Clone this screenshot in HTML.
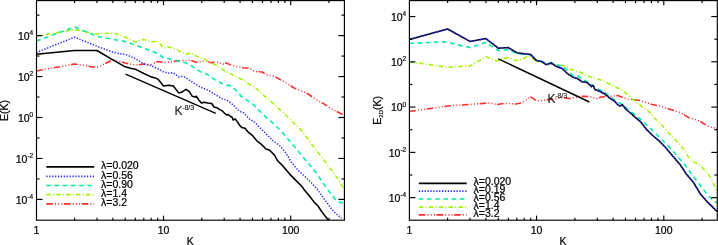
<!DOCTYPE html>
<html><head><meta charset="utf-8"><style>
html,body{margin:0;padding:0;background:#fff;}
body{width:718px;height:245px;position:relative;overflow:hidden;font-family:"Liberation Sans",sans-serif;}
svg{will-change:transform;}
</style></head><body>
<svg width="718" height="245" viewBox="0 0 718 245" style="position:absolute;left:0;top:0">
<defs><clipPath id="cl"><rect x="36.5" y="0.6" width="307.9" height="219.6"/></clipPath><clipPath id="cr"><rect x="409.4" y="0.6" width="307.9" height="219.6"/></clipPath></defs>
<polyline points="36.3,71.0 74.6,64.0 96.9,67.6 112.9,59.8 125.2,63.0 135.3,65.2 143.8,64.0 151.2,64.6 157.7,61.6 163.5,62.5 168.8,62.3 176.0,61.0 190.3,60.2 196.4,62.2 206.6,61.0 210.7,62.7 216.8,62.2 222.9,64.3 225.0,62.7 235.2,66.3 243.3,67.8 250.0,68.4 254.9,71.6 262.2,72.0 265.9,74.5 274.5,76.5 284.3,81.8 294.1,88.0 306.3,92.9 316.1,99.5 323.5,103.7 333.3,109.8 344.0,115.2" fill="none" stroke="#ff2b2b" stroke-width="1.55" stroke-linejoin="round" stroke-dasharray="6.5 2.2 1 2.2 1 2.2 1 1.6" clip-path="url(#cl)"/>
<polyline points="36.3,36.3 74.6,29.6 96.9,34.1 112.9,32.9 125.2,37.0 135.3,42.0 143.8,39.4 151.2,42.0 157.7,40.8 163.5,48.0 168.8,47.0 176.0,49.4 186.2,54.5 190.3,52.9 196.4,56.1 206.6,60.2 216.8,65.7 225.0,71.0 233.1,75.1 241.3,79.2 249.5,84.3 257.3,89.2 262.2,94.1 269.6,100.2 276.9,107.3 284.3,113.5 292.9,122.0 301.4,130.6 308.8,140.4 316.1,150.2 323.6,159.5 329.3,167.3 337.5,178.2 341.5,185.2 343.8,189.0" fill="none" stroke="#a2f400" stroke-width="1.55" stroke-linejoin="round" stroke-dasharray="4.5 2.2 1 2.2" clip-path="url(#cl)"/>
<polyline points="36.3,41.0 74.6,27.0 96.9,36.3 112.9,39.4 125.2,41.4 135.3,45.0 143.8,48.3 151.2,51.0 157.7,53.5 163.5,57.8 168.8,58.8 176.0,60.6 186.2,63.1 192.3,66.3 200.5,71.8 206.6,74.0 216.8,81.2 225.0,84.7 231.1,85.9 237.2,91.4 241.3,96.5 247.4,100.6 253.6,104.7 257.3,108.6 264.7,115.9 273.3,123.3 281.8,131.8 289.2,140.4 296.5,149.0 303.0,157.0 310.2,165.5 316.1,172.7 326.3,187.8 335.1,199.2 337.6,201.8 343.5,203.0" fill="none" stroke="#00eca4" stroke-width="1.55" stroke-linejoin="round" stroke-dasharray="4.6 3.6" clip-path="url(#cl)"/>
<polyline points="36.3,52.5 74.6,37.2 96.9,46.2 112.9,52.2 120.0,53.7 125.7,54.5 130.6,56.5 136.3,59.1 141.2,62.4 143.8,63.9 147.0,64.8 151.2,65.6 154.2,67.2 157.7,68.8 163.5,71.8 169.5,73.3 172.6,72.6 175.6,74.3 178.7,76.9 181.7,76.4 185.0,77.1 192.3,82.2 200.5,87.3 208.7,90.4 216.8,95.5 222.0,98.6 227.0,100.3 230.7,102.9 233.7,105.3 236.8,109.0 239.9,111.5 244.1,113.0 248.7,118.4 254.8,122.4 260.9,128.6 267.0,134.7 273.1,140.8 279.4,145.3 286.7,153.9 291.0,161.8 299.2,171.4 306.0,177.5 316.1,187.8 326.3,201.8 333.8,211.9 341.6,218.3" fill="none" stroke="#2a2aff" stroke-width="1.55" stroke-linejoin="round" stroke-dasharray="1.3 1.6" clip-path="url(#cl)"/>
<polyline points="36.3,54.2 74.6,50.5 96.9,50.5 112.9,59.8 125.2,66.8 130.6,68.3 136.3,69.6 143.8,73.5 150.1,76.4 155.2,77.9 158.3,79.4 163.5,86.0 168.8,85.2 173.4,86.0 178.6,92.9 181.4,92.3 186.0,89.4 189.4,91.7 192.3,96.3 194.6,96.9 196.3,96.3 198.6,99.7 201.4,103.1 204.3,102.3 207.7,103.1 211.7,103.5 214.2,107.2 217.2,107.8 219.7,109.6 222.1,110.8 224.6,113.3 227.0,115.1 228.2,114.5 230.1,116.3 231.9,117.0 233.1,120.0 235.0,118.8 237.4,121.9 239.9,125.5 241.7,127.4 245.0,128.2 248.7,132.7 252.7,135.7 256.8,140.8 260.9,143.9 266.0,149.0 269.6,150.2 274.5,155.1 277.4,160.5 282.8,165.9 289.7,174.1 295.1,179.6 302.0,186.5 304.0,189.5 306.9,192.9 309.7,196.3 313.9,201.9 318.0,206.0 320.8,210.2 324.3,215.1 327.1,218.6 328.8,220.8" fill="none" stroke="#000000" stroke-width="1.55" stroke-linejoin="round" clip-path="url(#cl)"/>
<polyline points="125.6,74.1 215.8,113.3" fill="none" stroke="#000000" stroke-width="1.4" stroke-linejoin="round"/>
<polyline points="409.3,111.5 447.8,106.0 470.2,104.4 489.0,102.9 497.2,104.5 505.0,103.3 510.4,103.7 515.8,104.0 519.4,103.3 523.0,101.9 527.5,99.2 530.6,96.8 533.8,98.9 536.5,101.0 542.8,100.3 546.1,100.0 556.3,98.6 562.5,97.5 569.0,98.6 579.2,96.5 585.0,96.2 591.5,97.0 596.4,98.7 601.3,97.0 607.8,96.2 612.7,96.2 617.6,95.6 622.5,97.2 627.3,99.1 632.2,99.7 638.4,100.3 644.5,102.1 649.4,103.4 652.2,104.5 660.4,106.1 670.6,109.6 680.8,112.7 689.0,117.8 699.2,120.8 707.3,125.9 714.5,128.0 717.3,129.0" fill="none" stroke="#ff2b2b" stroke-width="1.55" stroke-linejoin="round" stroke-dasharray="6.5 2.2 1 2.2 1 2.2 1 1.6" clip-path="url(#cr)"/>
<polyline points="409.3,61.8 447.8,67.3 470.0,65.9 486.1,56.8 490.0,58.2 497.3,61.0 502.2,58.8 508.3,57.5 515.7,60.6 521.8,59.4 526.7,56.9 530.0,57.0 536.1,60.8 541.2,62.5 549.4,63.9 556.1,64.7 562.6,65.5 569.2,68.8 575.7,71.2 582.2,72.8 585.0,75.0 594.8,78.3 603.0,80.7 609.5,84.0 616.0,87.2 620.0,88.9 624.9,92.3 629.8,96.6 634.7,100.9 639.6,104.6 644.5,108.3 648.8,111.5 654.7,118.2 662.9,126.3 671.0,135.5 679.2,143.7 684.1,149.9 688.7,157.3 692.1,161.1 699.4,164.8 706.8,172.1 711.7,179.4 715.3,188.0 717.3,192.0" fill="none" stroke="#a2f400" stroke-width="1.55" stroke-linejoin="round" stroke-dasharray="4.5 2.2 1 2.2" clip-path="url(#cr)"/>
<polyline points="409.3,43.5 444.7,41.8 470.0,47.6 485.9,42.4 498.2,50.6 508.3,49.6 516.8,53.7 530.7,54.7 536.6,60.4 541.4,61.0 546.0,63.5 551.0,62.5 556.1,64.7 562.6,66.3 567.5,70.4 572.4,75.3 577.3,75.3 582.2,79.4 585.0,80.7 590.0,83.5 598.0,88.9 604.6,92.1 609.5,96.2 616.0,101.1 622.5,104.4 629.0,110.1 634.0,114.0 640.4,119.2 650.6,128.4 660.8,138.6 671.0,148.8 678.7,157.6 684.8,164.8 692.1,174.6 699.4,184.3 706.8,194.1 714.1,201.5 717.3,203.0" fill="none" stroke="#00eca4" stroke-width="1.55" stroke-linejoin="round" stroke-dasharray="4.6 3.6" clip-path="url(#cr)"/>
<polyline points="409.3,39.4 447.6,29.0 470.0,41.4 485.9,38.6 498.2,48.2 508.3,47.6 516.8,52.7 524.2,53.7 530.7,54.6 536.5,60.6 541.4,61.4 546.3,64.7 551.2,63.0 556.1,66.3 562.6,68.8 567.5,73.7 572.4,76.9 577.3,78.5 582.2,81.8 587.1,82.6 590.0,85.1 591.5,86.6 593.2,85.5 594.8,89.5 599.7,91.3 604.6,93.8 609.5,97.8 614.4,101.1 617.6,104.6 620.0,106.0 622.4,104.8 626.1,109.5 629.8,112.5 632.3,114.6 634.3,116.6 640.4,121.6 646.5,129.4 652.7,135.5 658.8,140.6 664.9,146.7 671.0,153.9 676.1,160.0 680.0,164.5 686.7,174.6 693.5,182.5 700.2,193.7 707.0,201.6 715.5,209.9 717.3,211.3" fill="none" stroke="#000" stroke-width="1.55" stroke-linejoin="round" clip-path="url(#cr)"/>
<polyline points="409.3,39.4 447.6,29.0 470.0,41.4 485.9,38.6 498.2,48.2 508.3,47.6 516.8,52.7 524.2,53.7 530.7,54.6 536.5,60.6 541.4,61.4 546.3,64.7 551.2,63.0 556.1,66.3 562.6,68.8 567.5,73.7 572.4,76.9 577.3,78.5 582.2,81.8 587.1,82.6 590.0,85.1 591.5,86.6 593.2,85.5 594.8,89.5 599.7,91.3 604.6,93.8 609.5,97.8 614.4,101.1 617.6,104.6 620.0,106.0 622.4,104.8 626.1,109.5 629.8,112.5 632.3,114.6 634.3,116.6 640.4,121.6 646.5,129.4 652.7,135.5 658.8,140.6 664.9,146.7 671.0,153.9 676.1,160.0 680.0,164.5 686.7,174.6 693.5,182.5 700.2,193.7 707.0,201.6 715.5,209.9 717.3,211.3" fill="none" stroke="#2a2aff" stroke-width="1.55" stroke-linejoin="round" stroke-dasharray="1.3 1.6" clip-path="url(#cr)"/>
<polyline points="498.2,58.8 589.4,102.0" fill="none" stroke="#000000" stroke-width="1.4" stroke-linejoin="round"/>
<g stroke="#000" stroke-width="1.15" fill="none">
<rect x="36.5" y="0.6" width="307.9" height="219.6"/>
<line x1="74.59" y1="220.2" x2="74.59" y2="217.70"/>
<line x1="74.59" y1="0.6" x2="74.59" y2="3.10"/>
<line x1="96.99" y1="220.2" x2="96.99" y2="217.70"/>
<line x1="96.99" y1="0.6" x2="96.99" y2="3.10"/>
<line x1="112.88" y1="220.2" x2="112.88" y2="217.70"/>
<line x1="112.88" y1="0.6" x2="112.88" y2="3.10"/>
<line x1="125.21" y1="220.2" x2="125.21" y2="217.70"/>
<line x1="125.21" y1="0.6" x2="125.21" y2="3.10"/>
<line x1="135.28" y1="220.2" x2="135.28" y2="217.70"/>
<line x1="135.28" y1="0.6" x2="135.28" y2="3.10"/>
<line x1="143.80" y1="220.2" x2="143.80" y2="217.70"/>
<line x1="143.80" y1="0.6" x2="143.80" y2="3.10"/>
<line x1="151.17" y1="220.2" x2="151.17" y2="217.70"/>
<line x1="151.17" y1="0.6" x2="151.17" y2="3.10"/>
<line x1="157.68" y1="220.2" x2="157.68" y2="217.70"/>
<line x1="157.68" y1="0.6" x2="157.68" y2="3.10"/>
<line x1="163.50" y1="220.2" x2="163.50" y2="215.60"/>
<line x1="163.50" y1="0.6" x2="163.50" y2="5.20"/>
<line x1="201.79" y1="220.2" x2="201.79" y2="217.70"/>
<line x1="201.79" y1="0.6" x2="201.79" y2="3.10"/>
<line x1="224.19" y1="220.2" x2="224.19" y2="217.70"/>
<line x1="224.19" y1="0.6" x2="224.19" y2="3.10"/>
<line x1="240.08" y1="220.2" x2="240.08" y2="217.70"/>
<line x1="240.08" y1="0.6" x2="240.08" y2="3.10"/>
<line x1="252.41" y1="220.2" x2="252.41" y2="217.70"/>
<line x1="252.41" y1="0.6" x2="252.41" y2="3.10"/>
<line x1="262.48" y1="220.2" x2="262.48" y2="217.70"/>
<line x1="262.48" y1="0.6" x2="262.48" y2="3.10"/>
<line x1="271.00" y1="220.2" x2="271.00" y2="217.70"/>
<line x1="271.00" y1="0.6" x2="271.00" y2="3.10"/>
<line x1="278.37" y1="220.2" x2="278.37" y2="217.70"/>
<line x1="278.37" y1="0.6" x2="278.37" y2="3.10"/>
<line x1="284.88" y1="220.2" x2="284.88" y2="217.70"/>
<line x1="284.88" y1="0.6" x2="284.88" y2="3.10"/>
<line x1="290.70" y1="220.2" x2="290.70" y2="215.60"/>
<line x1="290.70" y1="0.6" x2="290.70" y2="5.20"/>
<line x1="328.99" y1="220.2" x2="328.99" y2="217.70"/>
<line x1="328.99" y1="0.6" x2="328.99" y2="3.10"/>
<line x1="36.5" y1="199.40" x2="42.5" y2="199.40"/>
<line x1="344.4" y1="199.40" x2="338.4" y2="199.40"/>
<line x1="36.5" y1="178.93" x2="39.5" y2="178.93"/>
<line x1="344.4" y1="178.93" x2="341.4" y2="178.93"/>
<line x1="36.5" y1="158.45" x2="42.5" y2="158.45"/>
<line x1="344.4" y1="158.45" x2="338.4" y2="158.45"/>
<line x1="36.5" y1="137.97" x2="39.5" y2="137.97"/>
<line x1="344.4" y1="137.97" x2="341.4" y2="137.97"/>
<line x1="36.5" y1="117.50" x2="42.5" y2="117.50"/>
<line x1="344.4" y1="117.50" x2="338.4" y2="117.50"/>
<line x1="36.5" y1="97.03" x2="39.5" y2="97.03"/>
<line x1="344.4" y1="97.03" x2="341.4" y2="97.03"/>
<line x1="36.5" y1="76.55" x2="42.5" y2="76.55"/>
<line x1="344.4" y1="76.55" x2="338.4" y2="76.55"/>
<line x1="36.5" y1="56.07" x2="39.5" y2="56.07"/>
<line x1="344.4" y1="56.07" x2="341.4" y2="56.07"/>
<line x1="36.5" y1="35.60" x2="42.5" y2="35.60"/>
<line x1="344.4" y1="35.60" x2="338.4" y2="35.60"/>
<line x1="36.5" y1="15.12" x2="39.5" y2="15.12"/>
<line x1="344.4" y1="15.12" x2="341.4" y2="15.12"/>
<rect x="409.4" y="0.6" width="307.9" height="219.6"/>
<line x1="447.61" y1="220.2" x2="447.61" y2="217.70"/>
<line x1="447.61" y1="0.6" x2="447.61" y2="3.10"/>
<line x1="470.01" y1="220.2" x2="470.01" y2="217.70"/>
<line x1="470.01" y1="0.6" x2="470.01" y2="3.10"/>
<line x1="485.91" y1="220.2" x2="485.91" y2="217.70"/>
<line x1="485.91" y1="0.6" x2="485.91" y2="3.10"/>
<line x1="498.24" y1="220.2" x2="498.24" y2="217.70"/>
<line x1="498.24" y1="0.6" x2="498.24" y2="3.10"/>
<line x1="508.32" y1="220.2" x2="508.32" y2="217.70"/>
<line x1="508.32" y1="0.6" x2="508.32" y2="3.10"/>
<line x1="516.84" y1="220.2" x2="516.84" y2="217.70"/>
<line x1="516.84" y1="0.6" x2="516.84" y2="3.10"/>
<line x1="524.22" y1="220.2" x2="524.22" y2="217.70"/>
<line x1="524.22" y1="0.6" x2="524.22" y2="3.10"/>
<line x1="530.73" y1="220.2" x2="530.73" y2="217.70"/>
<line x1="530.73" y1="0.6" x2="530.73" y2="3.10"/>
<line x1="536.55" y1="220.2" x2="536.55" y2="215.60"/>
<line x1="536.55" y1="0.6" x2="536.55" y2="5.20"/>
<line x1="574.86" y1="220.2" x2="574.86" y2="217.70"/>
<line x1="574.86" y1="0.6" x2="574.86" y2="3.10"/>
<line x1="597.26" y1="220.2" x2="597.26" y2="217.70"/>
<line x1="597.26" y1="0.6" x2="597.26" y2="3.10"/>
<line x1="613.16" y1="220.2" x2="613.16" y2="217.70"/>
<line x1="613.16" y1="0.6" x2="613.16" y2="3.10"/>
<line x1="625.49" y1="220.2" x2="625.49" y2="217.70"/>
<line x1="625.49" y1="0.6" x2="625.49" y2="3.10"/>
<line x1="635.57" y1="220.2" x2="635.57" y2="217.70"/>
<line x1="635.57" y1="0.6" x2="635.57" y2="3.10"/>
<line x1="644.09" y1="220.2" x2="644.09" y2="217.70"/>
<line x1="644.09" y1="0.6" x2="644.09" y2="3.10"/>
<line x1="651.47" y1="220.2" x2="651.47" y2="217.70"/>
<line x1="651.47" y1="0.6" x2="651.47" y2="3.10"/>
<line x1="657.98" y1="220.2" x2="657.98" y2="217.70"/>
<line x1="657.98" y1="0.6" x2="657.98" y2="3.10"/>
<line x1="663.80" y1="220.2" x2="663.80" y2="215.60"/>
<line x1="663.80" y1="0.6" x2="663.80" y2="5.20"/>
<line x1="702.11" y1="220.2" x2="702.11" y2="217.70"/>
<line x1="702.11" y1="0.6" x2="702.11" y2="3.10"/>
<line x1="409.4" y1="197.66" x2="415.4" y2="197.66"/>
<line x1="717.3" y1="197.66" x2="711.3" y2="197.66"/>
<line x1="409.4" y1="175.02" x2="412.4" y2="175.02"/>
<line x1="717.3" y1="175.02" x2="714.3" y2="175.02"/>
<line x1="409.4" y1="152.38" x2="415.4" y2="152.38"/>
<line x1="717.3" y1="152.38" x2="711.3" y2="152.38"/>
<line x1="409.4" y1="129.74" x2="412.4" y2="129.74"/>
<line x1="717.3" y1="129.74" x2="714.3" y2="129.74"/>
<line x1="409.4" y1="107.10" x2="415.4" y2="107.10"/>
<line x1="717.3" y1="107.10" x2="711.3" y2="107.10"/>
<line x1="409.4" y1="84.46" x2="412.4" y2="84.46"/>
<line x1="717.3" y1="84.46" x2="714.3" y2="84.46"/>
<line x1="409.4" y1="61.82" x2="415.4" y2="61.82"/>
<line x1="717.3" y1="61.82" x2="711.3" y2="61.82"/>
<line x1="409.4" y1="39.18" x2="412.4" y2="39.18"/>
<line x1="717.3" y1="39.18" x2="714.3" y2="39.18"/>
<line x1="409.4" y1="16.54" x2="415.4" y2="16.54"/>
<line x1="717.3" y1="16.54" x2="711.3" y2="16.54"/>
</g>
<line x1="46.3" y1="166.9" x2="94.2" y2="166.9" stroke="#000000" stroke-width="1.7"/>
<text transform="translate(101.0,169.40) scale(1,1.0)" font-family="Liberation Sans, sans-serif" font-size="10.5" fill="#000" stroke="#000" stroke-width="0.22">&#955;=0.020</text>
<line x1="46.3" y1="176.3" x2="94.2" y2="176.3" stroke="#2a2aff" stroke-width="1.7" stroke-dasharray="1.3 1.6"/>
<text transform="translate(101.0,178.80) scale(1,1.0)" font-family="Liberation Sans, sans-serif" font-size="10.5" fill="#000" stroke="#000" stroke-width="0.22">&#955;=0.56</text>
<line x1="46.3" y1="185.5" x2="94.2" y2="185.5" stroke="#00eca4" stroke-width="1.7" stroke-dasharray="4.6 3.6"/>
<text transform="translate(101.0,188.00) scale(1,1.0)" font-family="Liberation Sans, sans-serif" font-size="10.5" fill="#000" stroke="#000" stroke-width="0.22">&#955;=0.90</text>
<line x1="46.3" y1="194.6" x2="94.2" y2="194.6" stroke="#a2f400" stroke-width="1.7" stroke-dasharray="4.5 2.2 1 2.2"/>
<text transform="translate(101.0,197.10) scale(1,1.0)" font-family="Liberation Sans, sans-serif" font-size="10.5" fill="#000" stroke="#000" stroke-width="0.22">&#955;=1.4</text>
<line x1="46.3" y1="203.8" x2="94.2" y2="203.8" stroke="#ff2b2b" stroke-width="1.7" stroke-dasharray="6.5 2.2 1 2.2 1 2.2 1 1.6"/>
<text transform="translate(101.0,206.30) scale(1,1.0)" font-family="Liberation Sans, sans-serif" font-size="10.5" fill="#000" stroke="#000" stroke-width="0.22">&#955;=3.2</text>
<line x1="418.8" y1="183.3" x2="466.7" y2="183.3" stroke="#000000" stroke-width="1.7"/>
<text transform="translate(473.5,185.10) scale(1,1.0)" font-family="Liberation Sans, sans-serif" font-size="10.5" fill="#000" stroke="#000" stroke-width="0.22">&#955;=0.020</text>
<line x1="418.8" y1="191.1" x2="466.7" y2="191.1" stroke="#2a2aff" stroke-width="1.7" stroke-dasharray="1.3 1.6"/>
<text transform="translate(473.5,192.90) scale(1,1.0)" font-family="Liberation Sans, sans-serif" font-size="10.5" fill="#000" stroke="#000" stroke-width="0.22">&#955;=0.19</text>
<line x1="418.8" y1="199.0" x2="466.7" y2="199.0" stroke="#00eca4" stroke-width="1.7" stroke-dasharray="4.6 3.6"/>
<text transform="translate(473.5,200.80) scale(1,1.0)" font-family="Liberation Sans, sans-serif" font-size="10.5" fill="#000" stroke="#000" stroke-width="0.22">&#955;=0.56</text>
<line x1="418.8" y1="207.1" x2="466.7" y2="207.1" stroke="#a2f400" stroke-width="1.7" stroke-dasharray="4.5 2.2 1 2.2"/>
<text transform="translate(473.5,208.90) scale(1,1.0)" font-family="Liberation Sans, sans-serif" font-size="10.5" fill="#000" stroke="#000" stroke-width="0.22">&#955;=1.4</text>
<line x1="418.8" y1="214.8" x2="466.7" y2="214.8" stroke="#ff2b2b" stroke-width="1.7" stroke-dasharray="6.5 2.2 1 2.2 1 2.2 1 1.6"/>
<text transform="translate(473.5,216.60) scale(1,1.0)" font-family="Liberation Sans, sans-serif" font-size="10.5" fill="#000" stroke="#000" stroke-width="0.22">&#955;=3.2</text>
<text x="33.2" y="39.8" font-family="Liberation Sans, sans-serif" font-size="10.5" fill="#000" stroke="#000" stroke-width="0.22" text-anchor="end">10<tspan font-size="6.5" dy="-4.8" stroke-width="0.18">4</tspan></text>
<text x="33.2" y="80.8" font-family="Liberation Sans, sans-serif" font-size="10.5" fill="#000" stroke="#000" stroke-width="0.22" text-anchor="end">10<tspan font-size="6.5" dy="-4.8" stroke-width="0.18">2</tspan></text>
<text x="33.2" y="121.7" font-family="Liberation Sans, sans-serif" font-size="10.5" fill="#000" stroke="#000" stroke-width="0.22" text-anchor="end">10<tspan font-size="6.5" dy="-4.8" stroke-width="0.18">0</tspan></text>
<text x="33.2" y="162.6" font-family="Liberation Sans, sans-serif" font-size="10.5" fill="#000" stroke="#000" stroke-width="0.22" text-anchor="end">10<tspan font-size="6.5" dy="-4.8" stroke-width="0.18">-2</tspan></text>
<text x="33.2" y="203.6" font-family="Liberation Sans, sans-serif" font-size="10.5" fill="#000" stroke="#000" stroke-width="0.22" text-anchor="end">10<tspan font-size="6.5" dy="-4.8" stroke-width="0.18">-4</tspan></text>
<text x="36.3" y="233.7" font-family="Liberation Sans, sans-serif" font-size="10.5" fill="#000" stroke="#000" stroke-width="0.22" text-anchor="middle">1</text>
<text x="163.5" y="233.7" font-family="Liberation Sans, sans-serif" font-size="10.5" fill="#000" stroke="#000" stroke-width="0.22" text-anchor="middle">10</text>
<text x="290.7" y="233.7" font-family="Liberation Sans, sans-serif" font-size="10.5" fill="#000" stroke="#000" stroke-width="0.22" text-anchor="middle">100</text>
<text x="190.2" y="244.9" font-family="Liberation Sans, sans-serif" font-size="10.5" fill="#000" stroke="#000" stroke-width="0.22" text-anchor="middle">K</text>
<text x="406.2" y="20.7" font-family="Liberation Sans, sans-serif" font-size="10.5" fill="#000" stroke="#000" stroke-width="0.22" text-anchor="end">10<tspan font-size="6.5" dy="-4.8" stroke-width="0.18">4</tspan></text>
<text x="406.2" y="66.0" font-family="Liberation Sans, sans-serif" font-size="10.5" fill="#000" stroke="#000" stroke-width="0.22" text-anchor="end">10<tspan font-size="6.5" dy="-4.8" stroke-width="0.18">2</tspan></text>
<text x="406.2" y="111.3" font-family="Liberation Sans, sans-serif" font-size="10.5" fill="#000" stroke="#000" stroke-width="0.22" text-anchor="end">10<tspan font-size="6.5" dy="-4.8" stroke-width="0.18">0</tspan></text>
<text x="406.2" y="156.6" font-family="Liberation Sans, sans-serif" font-size="10.5" fill="#000" stroke="#000" stroke-width="0.22" text-anchor="end">10<tspan font-size="6.5" dy="-4.8" stroke-width="0.18">-2</tspan></text>
<text x="406.2" y="201.9" font-family="Liberation Sans, sans-serif" font-size="10.5" fill="#000" stroke="#000" stroke-width="0.22" text-anchor="end">10<tspan font-size="6.5" dy="-4.8" stroke-width="0.18">-4</tspan></text>
<text x="409.3" y="233.7" font-family="Liberation Sans, sans-serif" font-size="10.5" fill="#000" stroke="#000" stroke-width="0.22" text-anchor="middle">1</text>
<text x="536.5" y="233.7" font-family="Liberation Sans, sans-serif" font-size="10.5" fill="#000" stroke="#000" stroke-width="0.22" text-anchor="middle">10</text>
<text x="663.8" y="233.7" font-family="Liberation Sans, sans-serif" font-size="10.5" fill="#000" stroke="#000" stroke-width="0.22" text-anchor="middle">100</text>
<text x="563.1" y="244.9" font-family="Liberation Sans, sans-serif" font-size="10.5" fill="#000" stroke="#000" stroke-width="0.22" text-anchor="middle">K</text>
<text transform="translate(8.2,110.6) rotate(-90)" font-family="Liberation Sans, sans-serif" font-size="10.5" fill="#000" stroke="#000" stroke-width="0.22" text-anchor="middle">E(K)</text>
<text transform="translate(380.5,110.4) rotate(-90)" font-family="Liberation Sans, sans-serif" font-size="10.5" fill="#000" stroke="#000" stroke-width="0.22" text-anchor="middle">E<tspan font-size="6.2" dy="2.6" stroke-width="0.12">2D</tspan><tspan dy="-2.6" stroke-width="0.22">(K)</tspan></text>
<text x="174.4" y="114.8" font-family="Liberation Sans, sans-serif" font-size="12.2" fill="#111" stroke="#111" stroke-width="0.05">K<tspan font-size="6.9" dy="-5.0" dx="-0.3" stroke-width="0.1">-8/3</tspan></text>
<text x="547.4" y="102.8" font-family="Liberation Sans, sans-serif" font-size="12.2" fill="#111" stroke="#111" stroke-width="0.05">K<tspan font-size="6.9" dy="-5.0" dx="-0.3" stroke-width="0.1">-8/3</tspan></text>
</svg>
</body></html>
